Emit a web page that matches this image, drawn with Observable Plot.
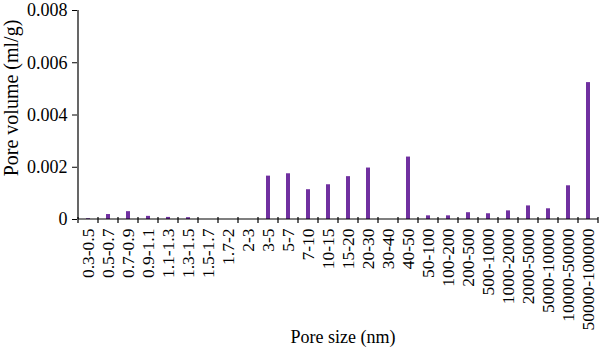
<!DOCTYPE html>
<html><head><meta charset="utf-8">
<script src="https://cdn.jsdelivr.net/npm/d3@7"></script>
<script src="https://cdn.jsdelivr.net/npm/@observablehq/plot@0.6"></script>
<style>body{margin:0;background:#fff}</style>
</head><body><div id="chart"></div>
<script>
const poreSizes = ["0.3-0.5","0.5-0.7","0.7-0.9","0.9-1.1","1.1-1.3","1.3-1.5","1.5-1.7","1.7-2","2-3","3-5","5-7","7-10","10-15","15-20","20-30","30-40","40-50","50-100","100-200","200-500","500-1000","1000-2000","2000-5000","5000-10000","10000-50000","50000-100000"];
const poreVolumes = [0.00003,0.00019,0.00030,0.00012,0.00008,0.00007,0,0,0,0.00166,0.00175,0.00114,0.00133,0.00164,0.00197,0,0.00239,0.00014,0.00014,0.00026,0.00022,0.00033,0.00052,0.00041,0.00129,0.00524];
const yTicks = [0,0.002,0.004,0.006,0.008];
const yLabel = "Pore volume (ml/g)";
const xLabel = "Pore size (nm)";

const data = poreSizes.map((s, i) => ({size: s, volume: poreVolumes[i]}));

// Excel-style frame: y axis line plus tick marks at category boundaries
const frameMarks = (index, scales, values, dimensions) => {
  const x = scales.x, y = scales.y;
  const bw = x.bandwidth ? x.bandwidth() : (dimensions.width - dimensions.marginLeft - dimensions.marginRight) / poreSizes.length;
  const g = d3.create("svg:g").attr("stroke", "black").attr("stroke-width", 1.2);
  const y0 = y(0);
  const xs = poreSizes.map(c => x(c)).concat([x(poreSizes[poreSizes.length - 1]) + bw]);
  g.selectAll("line.t").data(xs).join("line")
    .attr("x1", d => d).attr("x2", d => d).attr("y1", y0 - 2).attr("y2", y0 + 4);
  g.append("line").attr("x1", xs[0]).attr("x2", xs[0]).attr("y1", y(yTicks[yTicks.length - 1])).attr("y2", y0);
  g.append("line").attr("x1", xs[0]).attr("x2", xs[xs.length - 1]).attr("y1", y0).attr("y2", y0);
  return g.node();
};

const chart = Plot.plot({
  width: 600,
  height: 350,
  marginLeft: 77,
  marginRight: 2,
  marginTop: 10,
  marginBottom: 131,
  style: {fontFamily: "'Liberation Serif', serif", fontSize: "17px", color: "black", background: "white"},
  x: {type: "band", domain: poreSizes, padding: 0},
  y: {domain: [0, 0.008]},
  marks: [
    Plot.barY(data, {x: "size", y: "volume", fill: "#7030a0", insetLeft: 8, insetRight: 8}),
    frameMarks,
    Plot.axisY({ticks: yTicks, tickSize: 5, tickPadding: 5, fontSize: 18,
      tickFormat: d => d === 0 ? "0" : d.toFixed(3), label: null}),
    Plot.axisX({tickRotate: -90, tickSize: 0, tickPadding: 9, fontSize: 17.5, label: null}),
    Plot.text([xLabel], {frameAnchor: "bottom", textAnchor: "middle", lineAnchor: "middle", dx: 5, dy: 118, fontSize: 18, fill: "black"}),
    Plot.text([yLabel], {frameAnchor: "left", textAnchor: "middle", lineAnchor: "middle", rotate: -90, dx: -66, dy: -17, fontSize: 20, fill: "black"})
  ]
});
document.getElementById("chart").appendChild(chart);
</script>
</body></html>
